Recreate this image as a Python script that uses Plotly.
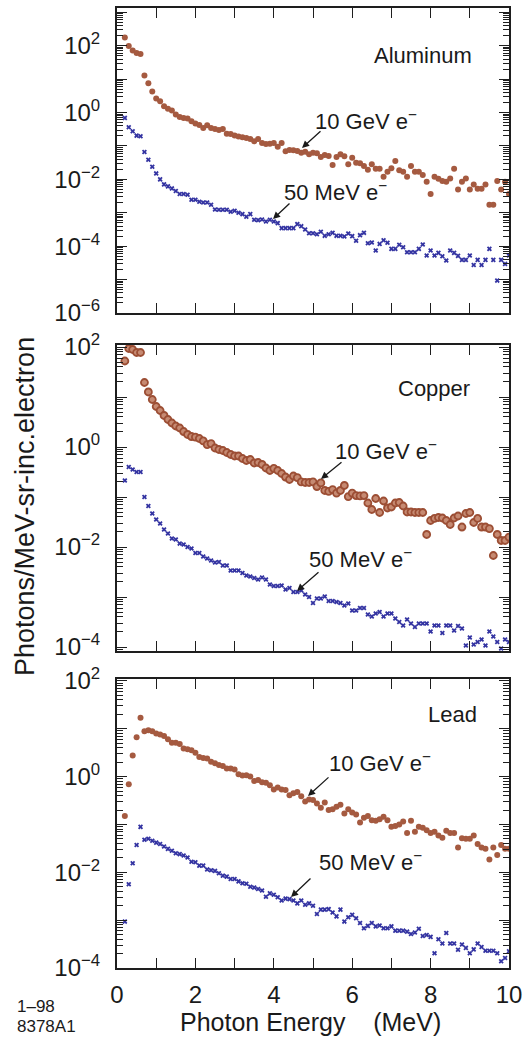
import plotly.graph_objects as go

W, H = 523, 1038

# ---------------- data ----------------
energy = [0.2, 0.3, 0.4, 0.5, 0.6, 0.7, 0.8, 0.9, 1.0,
          1.1, 1.2, 1.3, 1.4, 1.5, 1.6, 1.7, 1.8, 1.9, 2.0,
          2.1, 2.2, 2.3, 2.4, 2.5, 2.6, 2.7, 2.8, 2.9, 3.0,
          3.1, 3.2, 3.3, 3.4, 3.5, 3.6, 3.7, 3.8, 3.9, 4.0,
          4.1, 4.2, 4.3, 4.4, 4.5, 4.6, 4.7, 4.8, 4.9, 5.0,
          5.1, 5.2, 5.3, 5.4, 5.5, 5.6, 5.7, 5.8, 5.9, 6.0,
          6.1, 6.2, 6.3, 6.4, 6.5, 6.6, 6.7, 6.8, 6.9, 7.0,
          7.1, 7.2, 7.3, 7.4, 7.5, 7.6, 7.7, 7.8, 7.9, 8.0,
          8.1, 8.2, 8.3, 8.4, 8.5, 8.6, 8.7, 8.8, 8.9, 9.0,
          9.1, 9.2, 9.3, 9.4, 9.5, 9.6, 9.7, 9.8, 9.9, 10.0]

al_10gev = [1.78e2, 9.77e1, 7.24e1, 6.03e1, 5.62e1, 1.29e1, 7.59, 4.27, 2.63,
            2.19, 1.55, 1.29, 1.15, 8.71e-1, 7.41e-1, 6.92e-1, 6.61e-1, 5.50e-1, 4.68e-1,
            4.27e-1, 3.47e-1, 4.17e-1, 3.47e-1, 3.24e-1, 3.02e-1, 3.24e-1, 2.34e-1, 2.29e-1, 2.04e-1,
            1.91e-1, 1.82e-1, 1.74e-1, 1.62e-1, 1.38e-1, 1.62e-1, 1.23e-1, 1.15e-1, 1.17e-1, 1.23e-1,
            9.55e-2, 1.23e-1, 6.92e-2, 7.59e-2, 7.41e-2, 7.08e-2, 6.31e-2, 6.76e-2, 5.62e-2, 6.31e-2,
            6.03e-2, 4.68e-2, 5.37e-2, 5.01e-2, 2.69e-2, 4.68e-2, 5.62e-2, 4.90e-2, 2.82e-2, 4.47e-2,
            3.16e-2, 3.02e-2, 2.51e-2, 1.95e-2, 2.82e-2, 2.09e-2, 2.09e-2, 1.20e-2, 1.70e-2, 2.14e-2,
            3.55e-2, 1.86e-2, 1.70e-2, 1.20e-2, 2.51e-2, 1.70e-2, 1.70e-2, 1.35e-2, 8.51e-3, 3.63e-3,
            1.20e-2, 1.05e-2, 8.91e-3, 8.51e-3, 1.07e-2, 2.09e-2, 5.01e-3, 8.51e-3, 1.07e-2, 5.01e-3,
            7.08e-3, 5.25e-3, 5.25e-3, 7.08e-3, 1.74e-3, 1.74e-3, 8.91e-3, 5.01e-3, 8.51e-3, 3.63e-3]

al_50mev = [6.92e-1, 3.63e-1, 2.75e-1, 2.04e-1, 1.95e-1, 6.61e-2, 3.89e-2, 2.40e-2, 1.51e-2,
            1.00e-2, 7.08e-3, 6.17e-3, 5.37e-3, 4.47e-3, 3.63e-3, 3.63e-3, 3.47e-3, 2.45e-3, 2.45e-3,
            2.14e-3, 2.04e-3, 2.04e-3, 1.74e-3, 1.26e-3, 1.23e-3, 1.23e-3, 1.23e-3, 1.07e-3, 1.15e-3,
            1.00e-3, 9.12e-4, 7.59e-4, 9.12e-4, 6.17e-4, 6.03e-4, 6.31e-4, 5.50e-4, 6.17e-4, 5.50e-4,
            4.90e-4, 3.47e-4, 3.47e-4, 3.47e-4, 3.47e-4, 4.57e-4, 3.98e-4, 3.16e-4, 2.45e-4, 2.45e-4,
            2.29e-4, 2.69e-4, 2.04e-4, 2.29e-4, 2.51e-4, 2.04e-4, 2.04e-4, 1.95e-4, 2.40e-4, 2.00e-4,
            1.45e-4, 2.14e-4, 2.51e-4, 1.23e-4, 1.29e-4, 7.41e-5, 1.17e-4, 1.51e-4, 1.26e-4, 8.32e-5,
            8.32e-5, 1.10e-4, 9.33e-5, 6.61e-5, 6.61e-5, 6.61e-5, 8.32e-5, 1.12e-4, 5.25e-5, 7.41e-5,
            5.25e-5, 6.31e-5, 5.01e-5, 3.72e-5, 7.41e-5, 6.31e-5, 5.13e-5, 3.89e-5, 3.89e-5, 5.25e-5,
            2.75e-5, 3.89e-5, 2.75e-5, 3.89e-5, 8.32e-5, 3.89e-5, 9.33e-6, 3.89e-5, 2.95e-5, 5.25e-5]

cu_10gev = [5.25e1, 9.33e1, 8.91e1, 7.76e1, 7.76e1, 1.95e1, 1.26e1, 8.91, 6.46,
            5.37, 4.27, 3.55, 3.02, 2.63, 2.40, 2.04, 1.78, 1.62, 1.58,
            1.48, 1.32, 1.12, 1.17, 9.55e-1, 8.91e-1, 8.51e-1, 7.76e-1, 7.08e-1, 6.61e-1,
            6.61e-1, 5.89e-1, 5.37e-1, 5.62e-1, 4.79e-1, 4.90e-1, 4.47e-1, 3.80e-1, 3.39e-1, 3.72e-1,
            3.39e-1, 2.95e-1, 2.51e-1, 2.24e-1, 2.63e-1, 2.45e-1, 2.00e-1, 1.95e-1, 1.95e-1, 2.00e-1,
            1.62e-1, 1.91e-1, 1.35e-1, 1.29e-1, 1.41e-1, 1.20e-1, 1.35e-1, 1.70e-1, 1.02e-1, 1.20e-1,
            1.07e-1, 1.05e-1, 1.07e-1, 7.59e-2, 5.62e-2, 9.33e-2, 4.90e-2, 8.32e-2, 6.03e-2, 6.31e-2,
            7.59e-2, 7.76e-2, 6.61e-2, 5.01e-2, 5.01e-2, 4.90e-2, 4.90e-2, 4.90e-2, 1.78e-2, 3.39e-2,
            3.72e-2, 3.89e-2, 3.80e-2, 3.39e-2, 2.82e-2, 3.80e-2, 4.17e-2, 2.51e-2, 4.68e-2, 4.90e-2,
            3.09e-2, 3.72e-2, 2.51e-2, 2.51e-2, 2.34e-2, 6.76e-3, 1.78e-2, 1.35e-2, 1.35e-2, 1.58e-2]

cu_50mev = [2.14e-1, 3.98e-1, 3.55e-1, 3.16e-1, 3.16e-1, 1.00e-1, 6.61e-2, 4.68e-2, 3.55e-2,
            2.95e-2, 2.24e-2, 1.86e-2, 1.48e-2, 1.41e-2, 1.17e-2, 1.12e-2, 1.00e-2, 9.33e-3, 7.59e-3,
            7.59e-3, 6.46e-3, 5.89e-3, 5.37e-3, 4.90e-3, 5.01e-3, 4.27e-3, 4.27e-3, 3.39e-3, 3.39e-3,
            3.39e-3, 3.02e-3, 2.69e-3, 2.57e-3, 2.40e-3, 2.24e-3, 2.45e-3, 2.24e-3, 1.78e-3, 1.66e-3,
            1.66e-3, 1.70e-3, 1.41e-3, 1.51e-3, 1.26e-3, 1.26e-3, 1.35e-3, 1.12e-3, 1.00e-3, 7.59e-4,
            9.33e-4, 9.33e-4, 1.02e-3, 8.32e-4, 8.32e-4, 7.94e-4, 7.59e-4, 6.76e-4, 7.41e-4, 5.37e-4,
            5.37e-4, 6.03e-4, 6.03e-4, 4.47e-4, 4.07e-4, 4.68e-4, 5.01e-4, 4.07e-4, 4.68e-4, 4.68e-4,
            3.72e-4, 3.16e-4, 2.69e-4, 3.55e-4, 2.95e-4, 2.51e-4, 2.95e-4, 2.95e-4, 2.95e-4, 2.04e-4,
            2.69e-4, 2.69e-4, 1.91e-4, 2.69e-4, 2.69e-4, 2.14e-4, 2.63e-4, 2.34e-4, 1.07e-4, 1.55e-4,
            1.12e-4, 1.26e-4, 1.41e-4, 1.07e-4, 2.04e-4, 1.62e-4, 1.26e-4, 9.33e-5, 1.41e-4, 1.26e-4]

pb_10gev = [1.51e-1, 6.92e-1, 2.75, 6.61, 1.70e1, 8.91, 9.33, 8.91, 7.94,
            7.59, 7.08, 6.03, 5.13, 5.13, 4.79, 3.89, 3.72, 3.55, 3.16,
            2.57, 2.45, 2.40, 2.04, 1.91, 1.74, 1.66, 1.48, 1.48, 1.41,
            1.12, 1.05, 1.07, 1.00, 8.13e-1, 8.51e-1, 7.59e-1, 7.41e-1, 6.61e-1, 5.37e-1,
            5.89e-1, 5.37e-1, 5.25e-1, 4.07e-1, 4.47e-1, 4.79e-1, 3.89e-1, 3.02e-1, 3.31e-1, 3.24e-1,
            2.75e-1, 2.24e-1, 2.88e-1, 2.00e-1, 2.09e-1, 2.34e-1, 2.57e-1, 1.70e-1, 2.09e-1, 1.78e-1,
            1.62e-1, 1.10e-1, 1.38e-1, 1.51e-1, 1.23e-1, 1.20e-1, 1.29e-1, 1.45e-1, 1.23e-1, 8.91e-2,
            9.33e-2, 1.00e-1, 1.15e-1, 6.61e-2, 1.20e-1, 7.08e-2, 8.91e-2, 8.51e-2, 7.59e-2, 6.61e-2,
            7.08e-2, 5.89e-2, 5.25e-2, 7.41e-2, 6.61e-2, 6.61e-2, 3.31e-2, 5.13e-2, 5.01e-2, 5.01e-2,
            5.89e-2, 3.89e-2, 3.31e-2, 3.09e-2, 1.86e-2, 3.31e-2, 2.29e-2, 3.72e-2, 3.09e-2, 3.09e-2]

pb_50mev = [9.33e-4, 5.62e-3, 1.55e-2, 3.72e-2, 8.91e-2, 4.79e-2, 5.01e-2, 4.57e-2, 4.17e-2,
            3.89e-2, 3.47e-2, 3.09e-2, 2.82e-2, 2.51e-2, 2.40e-2, 2.24e-2, 2.04e-2, 1.66e-2, 1.62e-2,
            1.38e-2, 1.38e-2, 1.15e-2, 1.10e-2, 1.07e-2, 9.55e-3, 8.51e-3, 8.13e-3, 7.24e-3, 7.24e-3,
            6.46e-3, 5.89e-3, 5.75e-3, 5.01e-3, 4.79e-3, 4.47e-3, 4.17e-3, 3.09e-3, 3.63e-3, 3.39e-3,
            3.02e-3, 2.57e-3, 2.82e-3, 2.75e-3, 2.57e-3, 2.24e-3, 2.57e-3, 2.09e-3, 2.24e-3, 2.00e-3,
            1.35e-3, 1.66e-3, 1.66e-3, 1.70e-3, 1.45e-3, 1.20e-3, 1.66e-3, 9.33e-4, 1.15e-3, 1.29e-3,
            1.10e-3, 8.71e-4, 6.76e-4, 7.59e-4, 8.71e-4, 7.41e-4, 7.76e-4, 6.76e-4, 6.76e-4, 7.41e-4,
            6.03e-4, 6.03e-4, 6.03e-4, 5.75e-4, 5.13e-4, 5.50e-4, 6.61e-4, 4.68e-4, 4.90e-4, 4.47e-4,
            2.04e-4, 3.98e-4, 3.24e-4, 5.37e-4, 3.24e-4, 3.24e-4, 2.40e-4, 3.09e-4, 2.63e-4, 2.04e-4,
            2.45e-4, 3.24e-4, 2.75e-4, 2.29e-4, 2.29e-4, 2.29e-4, 2.04e-4, 1.38e-4, 1.62e-4, 2.24e-4]

materials = ["Aluminum", "Copper", "Lead"]
x_tick_labels = ["0", "", "2", "", "4", "", "6", "", "8", "", "10"]
label_10gev = "10 GeV e<sup>\u2212</sup>"
label_50mev = "50 MeV e<sup>\u2212</sup>"
x_title = "Photon Energy\u00a0\u00a0\u00a0\u00a0(MeV)"
y_title = "Photons/MeV-sr-inc.electron"
footer = ["1\u201398", "8378A1"]

# ---------------- style ----------------
FONT = "Liberation Sans, Arial, Helvetica, sans-serif"
BROWN = "#A55A40"
BLUE = "#3434A2"
AX = "#1e1e1e"


def px(x):
    return x / W


def py(y):
    return 1 - y / H


# panel frames in pixels (top, bottom) and log ranges
panels = [
    dict(top=8, bottom=313, rng=[-6, 3.13], decades=range(-6, 4)),
    dict(top=345, bottom=651, rng=[-4.08, 2.04], decades=range(-4, 3)),
    dict(top=679, bottom=968, rng=[-4.0, 2.04], decades=range(-4, 3)),
]
X0, X1 = 117, 509


def sup_label(e):
    s = str(e).replace("-", "\u2212")
    return "10<sup>%s</sup>" % s


fig = go.Figure()

series = [(al_10gev, al_50mev), (cu_10gev, cu_50mev), (pb_10gev, pb_50mev)]
for i, (hi, lo) in enumerate(series):
    xa = "x" if i == 0 else "x%d" % (i + 1)
    ya = "y" if i == 0 else "y%d" % (i + 1)
    if i == 1:
        mk = dict(size=7, color="#C68A72", symbol="circle",
                  line=dict(color="#9C4E34", width=1.8))
    else:
        mk = dict(size=6, color=BROWN, symbol="circle", line=dict(width=0))
    fig.add_trace(go.Scatter(x=energy, y=hi, mode="markers", marker=mk,
                             xaxis=xa, yaxis=ya, showlegend=False,
                             name="10 GeV e-"))
    fig.add_trace(go.Scatter(x=energy, y=lo, mode="markers",
                             marker=dict(size=4.5, color=BLUE, symbol="x",
                                         line=dict(width=0)),
                             xaxis=xa, yaxis=ya, showlegend=False,
                             name="50 MeV e-"))

layout = dict(
    width=W, height=H, autosize=False,
    margin=dict(l=0, r=0, t=0, b=0, autoexpand=False),
    paper_bgcolor="white", plot_bgcolor="white",
    font=dict(family=FONT, color="#1a1a1a"),
    showlegend=False,
)

for i, p in enumerate(panels):
    xkey = "xaxis" if i == 0 else "xaxis%d" % (i + 1)
    ykey = "yaxis" if i == 0 else "yaxis%d" % (i + 1)
    yanchor = "y" if i == 0 else "y%d" % (i + 1)
    xanchor = "x" if i == 0 else "x%d" % (i + 1)
    layout[xkey] = dict(
        domain=[px(X0), px(X1)], anchor=yanchor, range=[0, 10], automargin=False,
        showline=True, mirror="ticks", linecolor=AX, linewidth=2,
        ticks="inside", ticklen=10, tickwidth=1.3, tickcolor=AX,
        tickmode="array", tickvals=list(range(11)), ticktext=x_tick_labels,
        showticklabels=(i == 2), tickfont=dict(size=24, family=FONT),
        showgrid=False, zeroline=False, ticklabelstandoff=4,
    )
    dec = list(p["decades"])
    tv = [10.0 ** d for d in dec]
    tt = [sup_label(d) if d % 2 == 0 else "" for d in dec]
    minor_vals = [k * 10.0 ** d for d in range(dec[0] - 1, dec[-1] + 1) for k in range(2, 10)]
    layout[ykey] = dict(
        domain=[py(p["bottom"]), py(p["top"])], anchor=xanchor, type="log",
        range=p["rng"], automargin=False,
        showline=True, mirror="ticks", linecolor=AX, linewidth=2,
        ticks="inside", ticklen=10, tickwidth=1.3, tickcolor=AX,
        tickmode="array", tickvals=tv, ticktext=tt,
        tickfont=dict(size=24, family=FONT), ticklabelstandoff=10,
        minor=dict(ticks="inside", ticklen=6, tickwidth=1, tickcolor=AX,
                   tickmode="array", tickvals=minor_vals, showgrid=False),
        showgrid=False, zeroline=False,
    )

fig.update_layout(**layout)

ann = []
# material labels
for name, (cx, cy) in zip(materials, [(423, 55), (434, 388), (452, 714)]):
    ann.append(dict(text=name, x=px(cx), y=py(cy), xref="paper", yref="paper",
                    xanchor="center", yanchor="middle", showarrow=False,
                    font=dict(size=22, family=FONT, color="#1a1a1a")))

# beam labels: (text-left-x, text-center-y)
beam_text = [
    [(313, 120), (282, 191)],
    [(333, 450), (307, 558)],
    [(327, 762), (317, 861)],
]
beam_arrows = [
    [((302, 148), (322, 130)), ((273, 219), (291, 202))],
    [((321, 479), (343, 461)), ((297, 591), (320, 571))],
    [((308, 796), (330, 776)), ((291, 897), (312, 877))],
]
for i in range(3):
    for j, lab in enumerate([label_10gev, label_50mev]):
        tx, ty = beam_text[i][j]
        ann.append(dict(text=lab, x=px(tx), y=py(ty), xref="paper", yref="paper",
                        xanchor="left", yanchor="middle", showarrow=False,
                        font=dict(size=22, family=FONT, color="#1a1a1a")))
        (hx, hy), (sx, sy) = beam_arrows[i][j]
        ann.append(dict(text="", x=px(hx), y=py(hy), xref="paper", yref="paper",
                        showarrow=True, ax=sx - hx, ay=sy - hy,
                        arrowhead=2, arrowsize=1.1, arrowwidth=1.3,
                        arrowcolor="#1a1a1a"))

# axis titles
ann.append(dict(text=x_title, x=px(310), y=py(1022), xref="paper", yref="paper",
                xanchor="center", yanchor="middle", showarrow=False,
                font=dict(size=25, family=FONT, color="#1a1a1a")))
ann.append(dict(text=y_title, x=px(25), y=py(507), xref="paper", yref="paper",
                xanchor="center", yanchor="middle", showarrow=False, textangle=-90,
                font=dict(size=27, family=FONT, color="#1a1a1a")))
# footer code
ann.append(dict(text=footer[0], x=px(15), y=py(1006), xref="paper", yref="paper",
                xanchor="left", yanchor="middle", showarrow=False,
                font=dict(size=17, family=FONT, color="#1a1a1a")))
ann.append(dict(text=footer[1], x=px(15), y=py(1026), xref="paper", yref="paper",
                xanchor="left", yanchor="middle", showarrow=False,
                font=dict(size=17, family=FONT, color="#1a1a1a")))

fig.update_layout(annotations=ann)

fig.write_html("out.html", config={"displayModeBar": False},
               post_script="document.body.style.margin='0px';")
